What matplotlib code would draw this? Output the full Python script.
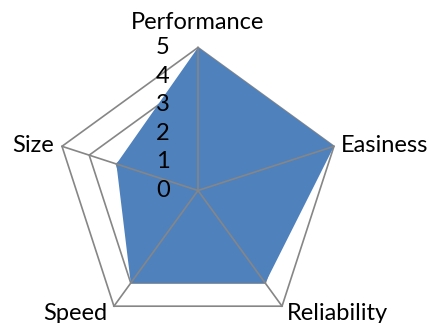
import numpy as np
import matplotlib.pyplot as plt

plt.rcParams['font.family'] = ['Lato', 'DejaVu Sans']

categories = ["Performance", "Easiness", "Reliability", "Speed", "Size"]
scores = [5, 5, 4, 4, 3]
r_ticks = [0, 1, 2, 3, 4, 5]

# label offsets from each outer vertex, in pixels (dx, dy, ha)
label_pos = {
    "Performance": (0, 25, "center"),
    "Easiness": (7, 1, "left"),
    "Reliability": (5, -7, "left"),
    "Speed": (-7, -7, "right"),
    "Size": (-8, 1, "right"),
}

DPI = 100
fig = plt.figure(figsize=(4.36, 3.23), dpi=DPI)
ax = fig.add_axes([0.1261, -0.0325, 0.656, 0.8854], projection="polar")
ax.set_theta_offset(np.pi / 2)
ax.set_theta_direction(-1)
ax.set_ylim(0, 5)
ax.set_axis_off()

n = len(categories)
theta = np.arange(n) * 2 * np.pi / n
theta_closed = np.append(theta, theta[0])

grey = "#868686"
# grid pentagons (under the fill)
for level in r_ticks[1:]:
    ax.plot(theta_closed, [level] * (n + 1), color=grey, lw=1.2,
            zorder=1, clip_on=False)

vals = np.append(scores, scores[0])
ax.fill(theta_closed, vals, color="#4F81BD", lw=0, zorder=2, clip_on=False)

# spokes on top of the fill
for t in theta:
    ax.plot([t, t], [0, r_ticks[-1]], color=grey, lw=1.2, zorder=3,
            clip_on=False)

pt = 72 / DPI
fs = 17
for k in r_ticks:
    ax.annotate(str(k), xy=(0, k), xytext=(-35 * pt, 0),
                textcoords="offset points", ha="center", va="center",
                fontsize=fs, zorder=4, annotation_clip=False)

for t, name in zip(theta, categories):
    dx, dy, ha = label_pos[name]
    ax.annotate(name, xy=(t, r_ticks[-1]), xytext=(dx * pt, dy * pt),
                textcoords="offset points", ha=ha, va="center",
                fontsize=fs, annotation_clip=False)

fig.savefig("out.png", dpi=DPI)
